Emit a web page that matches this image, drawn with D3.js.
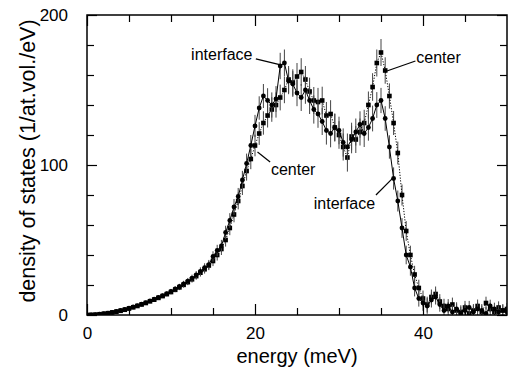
<!DOCTYPE html>
<html>
<head>
<meta charset="utf-8">
<script src="https://cdn.jsdelivr.net/npm/d3@7"></script>
<style>
  body { margin: 0; background: #fff; }
  svg { display: block; font-family: "Liberation Sans", Arial, Helvetica, sans-serif; }
</style>
</head>
<body>
<figure id="dos" style="margin:0"></figure>
<script>
// energy grid (meV), 0.5 meV steps
const energy = [
  0, 0.5, 1, 1.5, 2, 2.5, 3, 3.5, 4, 4.5,
  5, 5.5, 6, 6.5, 7, 7.5, 8, 8.5, 9, 9.5,
  10, 10.5, 11, 11.5, 12, 12.5, 13, 13.5, 14, 14.5,
  15, 15.5, 16, 16.5, 17, 17.5, 18, 18.5, 19, 19.5,
  20, 20.5, 21, 21.5, 22, 22.5, 23, 23.5, 24, 24.5,
  25, 25.5, 26, 26.5, 27, 27.5, 28, 28.5, 29, 29.5,
  30, 30.5, 31, 31.5, 32, 32.5, 33, 33.5, 34, 34.5,
  35, 35.5, 36, 36.5, 37, 37.5, 38, 38.5, 39, 39.5,
  40, 40.5, 41, 41.5, 42, 42.5, 43, 43.5, 44, 44.5,
  45, 45.5, 46, 46.5, 47, 47.5, 48, 48.5, 49, 49.5,
  50
];

// interface atoms (solid line, circles)
const interfaceDos = [
  0, 0.1, 0.3, 0.6, 0.9, 1.3, 1.8, 2.4, 3.0, 3.7,
  4.5, 5.4, 6.3, 7.3, 8.3, 9.4, 10.5, 11.7, 12.9, 14.3,
  15.8, 17.4, 19.0, 20.8, 22.6, 24.6, 26.8, 29.1, 31.5, 33.5,
  39, 43, 46, 55, 63, 72, 79, 90, 101, 113,
  126, 138, 146, 143, 140, 144, 166, 168, 156, 154,
  148, 145, 150, 143, 137, 134, 129, 123, 121, 125,
  123, 115, 112, 117, 122, 127, 121, 125, 131, 140,
  143, 131, 112, 91, 76, 58, 40, 32, 18, 11,
  8, 6, 10, 12, 7, 3, 6, 2, 4, 1,
  3, 5, 2, 4, 3, 1, 6, 4, 2, 3,
  2
];
const interfaceErr = [
  0.2, 0.3, 0.3, 0.4, 0.4, 0.5, 0.5, 0.6, 0.6, 0.7,
  0.8, 0.8, 0.9, 1.0, 1.0, 1.1, 1.2, 1.3, 1.4, 1.5,
  1.6, 1.7, 1.8, 2.0, 2.1, 2.3, 2.5, 2.7, 3.0, 3.2,
  3.5, 3.8, 4.1, 4.5, 4.9, 5.3, 5.7, 6.1, 6.6, 7.0,
  7.4, 7.8, 8.0, 8.2, 8.4, 8.6, 8.8, 9.0, 8.8, 8.6,
  8.8, 9.0, 9.2, 9.0, 9.4, 9.2, 9.0, 9.4, 9.2, 9.0,
  9.2, 9.4, 9.0, 9.2, 9.0, 8.8, 9.0, 8.8, 8.6, 8.6,
  8.4, 8.2, 7.8, 7.4, 7.0, 6.6, 6.2, 5.8, 5.6, 5.4,
  5.2, 5.2, 5.0, 5.0, 4.8, 4.8, 4.6, 4.6, 4.5, 4.5,
  4.4, 4.4, 4.4, 4.3, 4.3, 4.3, 4.2, 4.2, 4.2, 4.1,
  4.0
];

// center atoms (dotted line, squares)
const centerDos = [
  0, 0.1, 0.2, 0.5, 0.8, 1.2, 1.7, 2.2, 2.8, 3.5,
  4.3, 5.1, 6.0, 7.0, 8.0, 9.1, 10.2, 11.4, 12.6, 13.9,
  15.3, 16.8, 18.4, 20.1, 21.9, 23.8, 25.9, 28.2, 30.5, 33.0,
  36, 40, 44, 50, 58, 67, 76, 86, 96, 104,
  113, 121, 128, 133, 137, 140, 145, 150, 157, 155,
  159, 162, 157, 149, 143, 142, 143, 133, 134, 125,
  120, 112, 105, 119, 117, 122, 128, 140, 152, 168,
  175, 163, 146, 128, 108, 80, 56, 40, 27, 18,
  11, 7, 12, 14, 9, 6, 4, 7, 3, 2,
  5, 1, 3, 6, 2, 8, 4, 2, 5, 3,
  4
];
const centerErr = [
  0.2, 0.2, 0.3, 0.3, 0.4, 0.4, 0.5, 0.5, 0.6, 0.7,
  0.7, 0.8, 0.9, 0.9, 1.0, 1.1, 1.2, 1.2, 1.3, 1.4,
  1.5, 1.6, 1.8, 1.9, 2.0, 2.2, 2.4, 2.6, 2.9, 3.1,
  3.4, 3.7, 4.0, 4.4, 4.8, 5.2, 5.6, 6.0, 6.4, 6.8,
  7.2, 7.6, 7.8, 8.0, 8.2, 8.4, 8.6, 8.8, 9.0, 8.8,
  9.0, 9.2, 9.0, 9.2, 9.0, 9.4, 9.2, 9.0, 9.2, 9.4,
  9.2, 9.0, 9.4, 9.2, 9.0, 9.0, 8.8, 9.0, 9.2, 9.0,
  9.0, 8.8, 8.4, 8.0, 7.6, 7.0, 6.6, 6.2, 5.8, 5.5,
  5.3, 5.2, 5.0, 5.0, 4.9, 4.8, 4.7, 4.6, 4.5, 4.5,
  4.4, 4.4, 4.3, 4.3, 4.3, 4.2, 4.2, 4.2, 4.1, 4.1,
  4.0
];

const xMajorTicks = [0, 20, 40];
const xMinorTicks = [5, 10, 15, 25, 30, 35, 45];
const yMajorTicks = [0, 100, 200];
const yMinorTicks = [20, 40, 60, 80, 120, 140, 160, 180];

// label text + anchor, leader line from/to, in data units
const labelText = ['interface', 'center', 'center', 'interface'];
const labelAt = [[19.7, 170], [39.2, 168], [21.9, 93.5], [27.0, 70.5]];
const labelAnchor = ['end', 'start', 'start', 'start'];
const leaderFrom = [[20.1, 170.7], [39.1, 169.3], [20.3, 108.7], [34.4, 80]];
const leaderTo = [[23.05, 166.7], [35.7, 162.7], [21.8, 102], [36.4, 91.3]];

const width = 512;
const height = 373;
const marginLeft = 87;
const marginRight = 5;
const marginTop = 15;
const marginBottom = 58;

const svg = d3.select('figure#dos')
  .append('svg')
  .attr('width', width)
  .attr('height', height);

const x = d3.scaleLinear()
  .domain([0, 50])
  .range([marginLeft, width - marginRight]);

const y = d3.scaleLinear()
  .domain([0, 200])
  .range([height - marginBottom, marginTop]);

const plot = svg.append('g');
svg.append('clipPath').attr('id', 'clip')
  .append('rect')
  .attr('x', x(0)).attr('y', y(200))
  .attr('width', x(50) - x(0)).attr('height', y(0) - y(200));

function drawSeries(vals, errs, dotted, square) {
  const pts = energy.map((e, i) => ({ e: e, v: vals[i], err: errs[i] }));
  const g = plot.append('g').attr('clip-path', 'url(#clip)');

  // error bars
  g.selectAll('line.err')
    .data(pts)
    .join('line')
    .attr('class', 'err')
    .attr('x1', (d) => x(d.e))
    .attr('x2', (d) => x(d.e))
    .attr('y1', (d) => y(d.v - d.err))
    .attr('y2', (d) => y(d.v + d.err))
    .attr('stroke', '#444')
    .attr('stroke-width', 1);

  const line = d3.line()
    .x((d) => x(d.e))
    .y((d) => y(d.v));

  g.append('path')
    .datum(pts)
    .attr('d', line)
    .attr('fill', 'none')
    .attr('stroke', '#000')
    .attr('stroke-width', 1)
    .attr('stroke-dasharray', dotted ? '1.2,1.6' : null);

  if (square) {
    g.selectAll('rect.mk')
      .data(pts)
      .join('rect')
      .attr('class', 'mk')
      .attr('x', (d) => x(d.e) - 2.3)
      .attr('y', (d) => y(d.v) - 2.3)
      .attr('width', 4.6)
      .attr('height', 4.6)
      .attr('fill', '#000');
  } else {
    g.selectAll('circle.mk')
      .data(pts)
      .join('circle')
      .attr('class', 'mk')
      .attr('cx', (d) => x(d.e))
      .attr('cy', (d) => y(d.v))
      .attr('r', 2.4)
      .attr('fill', '#000');
  }
}

drawSeries(centerDos, centerErr, true, true);
drawSeries(interfaceDos, interfaceErr, false, false);

// axes, ticks pointing inwards on all four sides
function styleAxis(g) {
  g.select('.domain').remove();
  g.selectAll('.tick line').attr('stroke', '#000').attr('stroke-width', 1.2);
  g.selectAll('.tick text').attr('fill', '#000').style('font-size', '17px');
}

svg.append('g')
  .attr('transform', `translate(0, ${y(0)})`)
  .call(d3.axisBottom(x).tickValues(xMajorTicks).tickSize(-11).tickPadding(12).tickFormat(d3.format('d')))
  .call(styleAxis);
svg.append('g')
  .attr('transform', `translate(0, ${y(0)})`)
  .call(d3.axisBottom(x).tickValues(xMinorTicks).tickSize(-7).tickFormat(''))
  .call(styleAxis);
svg.append('g')
  .attr('transform', `translate(0, ${y(200)})`)
  .call(d3.axisTop(x).tickValues(xMajorTicks).tickSize(-11).tickFormat(''))
  .call(styleAxis);
svg.append('g')
  .attr('transform', `translate(0, ${y(200)})`)
  .call(d3.axisTop(x).tickValues(xMinorTicks).tickSize(-7).tickFormat(''))
  .call(styleAxis);

svg.append('g')
  .attr('transform', `translate(${x(0)}, 0)`)
  .call(d3.axisLeft(y).tickValues(yMajorTicks).tickSize(-10).tickPadding(19).tickFormat(d3.format('d')))
  .call(styleAxis);
svg.append('g')
  .attr('transform', `translate(${x(0)}, 0)`)
  .call(d3.axisLeft(y).tickValues(yMinorTicks).tickSize(-7).tickFormat(''))
  .call(styleAxis);
svg.append('g')
  .attr('transform', `translate(${x(50)}, 0)`)
  .call(d3.axisRight(y).tickValues(yMajorTicks).tickSize(-10).tickFormat(''))
  .call(styleAxis);
svg.append('g')
  .attr('transform', `translate(${x(50)}, 0)`)
  .call(d3.axisRight(y).tickValues(yMinorTicks).tickSize(-7).tickFormat(''))
  .call(styleAxis);

// frame
svg.append('rect')
  .attr('x', x(0))
  .attr('y', y(200))
  .attr('width', x(50) - x(0))
  .attr('height', y(0) - y(200))
  .attr('fill', 'none')
  .attr('stroke', '#000')
  .attr('stroke-width', 1.5);

// axis titles
svg.append('text')
  .attr('x', (x(0) + x(50)) / 2)
  .attr('y', 363)
  .attr('text-anchor', 'middle')
  .style('font-size', '20px')
  .text('energy (meV)');

svg.append('text')
  .attr('transform', `translate(35, 161) rotate(-90)`)
  .attr('text-anchor', 'middle')
  .style('font-size', '21.5px')
  .text('density of states (1/at.vol./eV)');

// curve labels with leader lines
labelText.forEach((t, i) => {
  svg.append('line')
    .attr('x1', x(leaderFrom[i][0]))
    .attr('y1', y(leaderFrom[i][1]))
    .attr('x2', x(leaderTo[i][0]))
    .attr('y2', y(leaderTo[i][1]))
    .attr('stroke', '#000')
    .attr('stroke-width', 1.2);
  svg.append('text')
    .attr('x', x(labelAt[i][0]))
    .attr('y', y(labelAt[i][1]))
    .attr('text-anchor', labelAnchor[i])
    .style('font-size', '16px')
    .text(t);
});
</script>
</body>
</html>
